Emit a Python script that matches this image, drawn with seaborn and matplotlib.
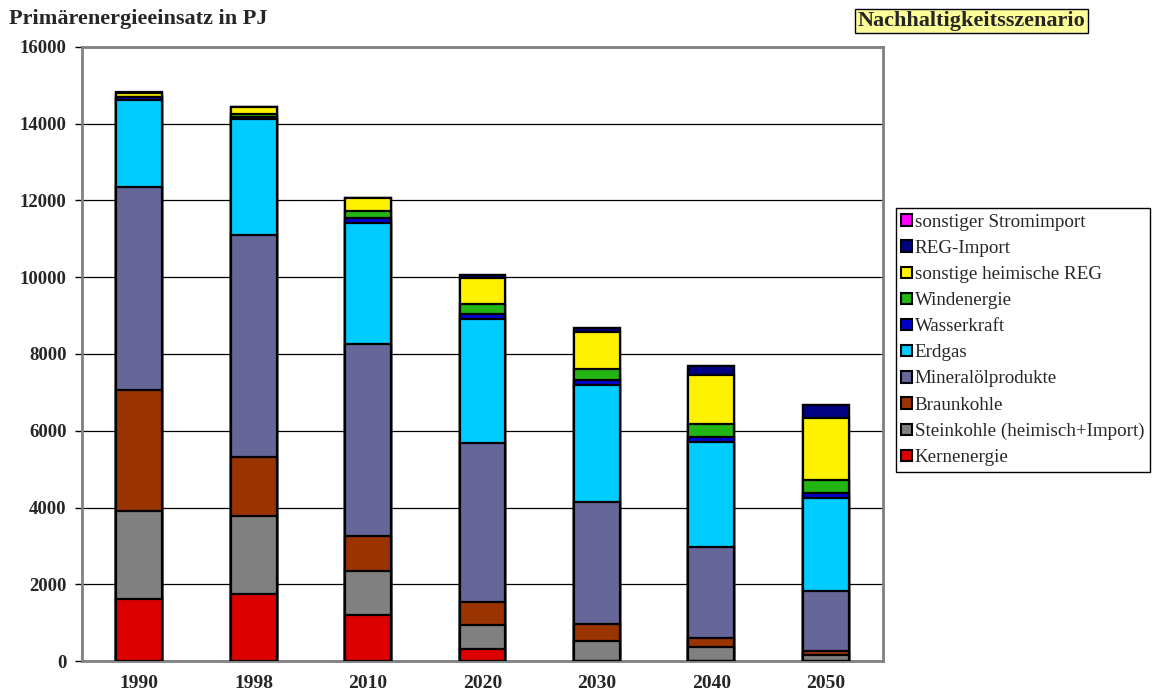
import matplotlib
matplotlib.use('Agg')
import matplotlib.pyplot as plt
import seaborn as sns
import pandas as pd
import numpy as np
from matplotlib.patches import Patch

sns.set_style('white')
plt.rcParams['font.family'] = ['Liberation Serif', 'DejaVu Serif']

# Primärenergieeinsatz in PJ, Nachhaltigkeitsszenario
years = ['1990', '1998', '2010', '2020', '2030', '2040', '2050']
kernenergie = [1615, 1745, 1198, 312, 0, 0, 0]
steinkohle = [2290, 2030, 1146, 625, 521, 365, 150]
braunkohle = [3150, 1536, 911, 600, 442, 234, 110]
mineraloel = [5290, 5780, 4995, 4140, 3178, 2370, 1565]
erdgas = [2265, 3020, 3155, 3230, 3047, 2734, 2420]
wasserkraft = [80, 70, 130, 124, 130, 130, 130]
windenergie = [10, 60, 183, 267, 286, 339, 339]
sonst_reg = [110, 200, 338, 677, 964, 1276, 1614]
reg_import = [0, 0, 0, 78, 104, 234, 339]
stromimport = [30, 0, 0, 0, 0, 0, 0]

series = [
    ('Kernenergie', kernenergie, '#DD0000'),
    ('Steinkohle (heimisch+Import)', steinkohle, '#808080'),
    ('Braunkohle', braunkohle, '#993300'),
    ('Mineralölprodukte', mineraloel, '#666699'),
    ('Erdgas', erdgas, '#00CCFF'),
    ('Wasserkraft', wasserkraft, '#0000CC'),
    ('Windenergie', windenergie, '#22B514'),
    ('sonstige heimische REG', sonst_reg, '#FFF200'),
    ('REG-Import', reg_import, '#000080'),
    ('sonstiger Stromimport', stromimport, '#FF00FF'),
]

df = pd.DataFrame({name: vals for name, vals, _ in series}, index=years)
cum = df.cumsum(axis=1)

fig = plt.figure(figsize=(11.52, 6.91), dpi=100)
ax = fig.add_axes([0.0712, 0.0434, 0.6953, 0.8886])

# stacked bars: draw cumulative totals from the top layer down
for name, _, color in reversed(series):
    sns.barplot(x=years, y=cum[name].values, color=color, width=0.4,
                edgecolor='black', linewidth=1.6, saturation=1, ax=ax,
                zorder=3)

ax.set_ylim(0, 16000)
ax.set_xlim(-0.5, len(years) - 0.5)
ax.set_yticks(np.arange(0, 16001, 2000))
ax.set_yticklabels([str(v) for v in range(0, 16001, 2000)],
                   fontweight='bold', fontsize=13.5)
ax.set_xticks(range(len(years)))
ax.set_xticklabels(years, fontweight='bold', fontsize=14)
ax.set_xticks(np.arange(-0.5, len(years), 1), minor=True)
ax.tick_params(axis='x', which='major', length=0, pad=10)
ax.tick_params(axis='x', which='minor', length=5, width=1, color='black',
               direction='out')
ax.tick_params(axis='y', length=5, width=1, color='black', direction='out',
               left=True, pad=6)
ax.set_xlabel('')
ax.set_ylabel('')

ax.yaxis.grid(True, color='black', linewidth=0.9, zorder=0)
ax.xaxis.grid(False)
ax.set_axisbelow(True)
for sp in ax.spines.values():
    sp.set_visible(True)
    sp.set_color('#808080')
    sp.set_linewidth(2)

fig.text(0.008, 0.973, 'Primärenergieeinsatz in PJ', fontsize=16,
         fontweight='bold', ha='left', va='center')
fig.text(0.8433, 0.970, 'Nachhaltigkeitsszenario', fontsize=16,
         fontweight='bold', ha='center', va='center',
         bbox=dict(boxstyle='square,pad=0.1', facecolor='#FFFF99',
                   edgecolor='black', linewidth=1))

handles = [Patch(facecolor=c, edgecolor='black', linewidth=1.5, label=n)
           for n, _, c in reversed(series)]
leg = fig.legend(handles=handles, loc='upper left',
                 bbox_to_anchor=(0.7775, 0.699), fontsize=13.7,
                 frameon=True, fancybox=False, edgecolor='black',
                 framealpha=1, handlelength=0.55, handleheight=0.55,
                 handletextpad=0.15, labelspacing=0.48, borderpad=0.3,
                 borderaxespad=0)
leg.get_frame().set_linewidth(1)

fig.savefig('out.png', dpi=100, facecolor='white')
